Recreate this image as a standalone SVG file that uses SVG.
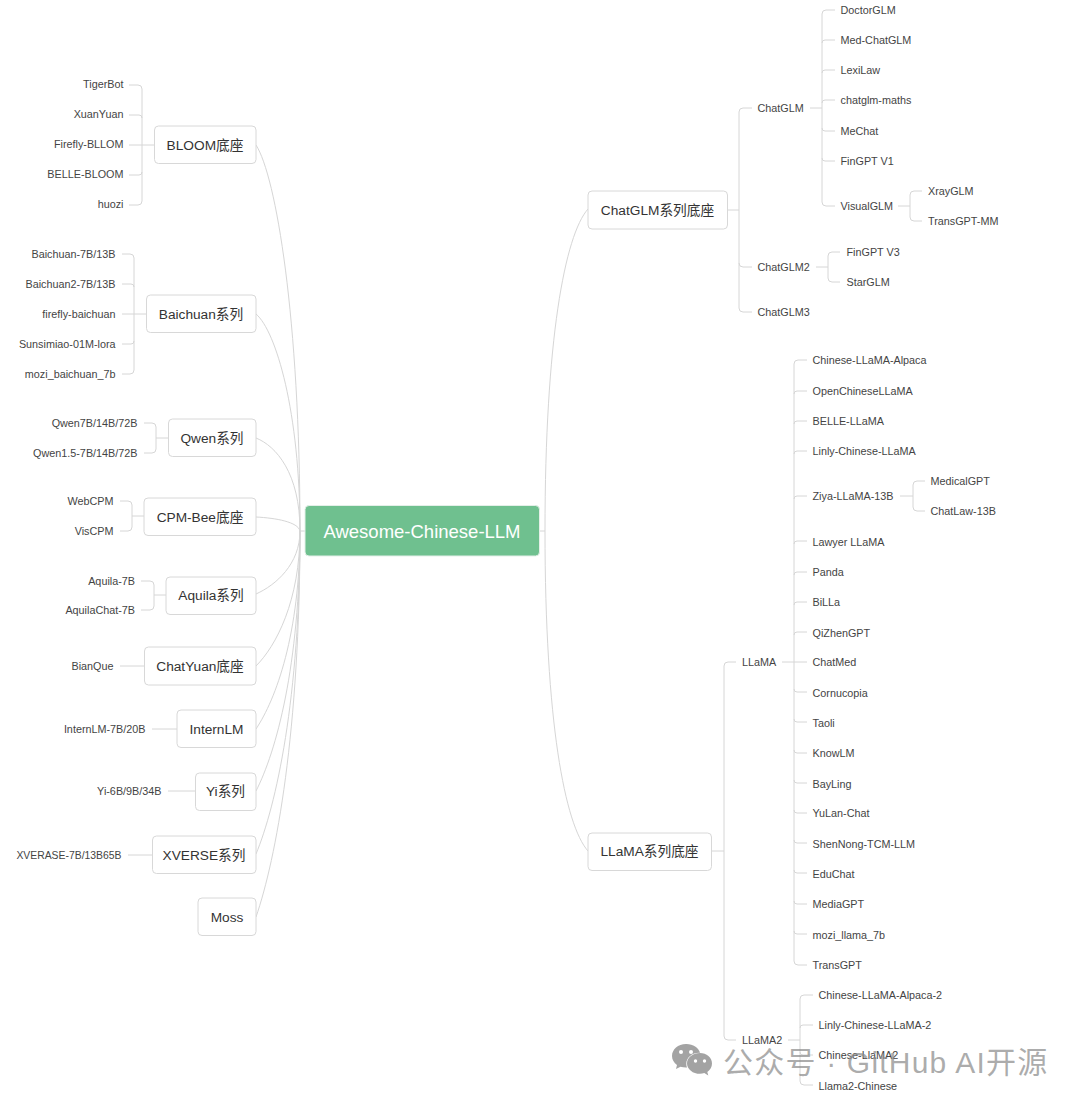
<svg xmlns="http://www.w3.org/2000/svg" width="1080" height="1105" viewBox="0 0 1080 1105">
<style>
text{font-family:"Liberation Sans","Noto Sans CJK SC",sans-serif;fill:#444}
.l{font-size:10.800px}
.r{font-size:10.800px;text-anchor:end}
.b{font-size:13.700px;text-anchor:middle;fill:#333}
.box{fill:#fff;stroke:#d8d8d8;stroke-width:1}
.root{fill:#6fc08f;stroke:#e4efe8;stroke-width:1}
.t{font-size:18.500px;text-anchor:middle;fill:#fff}
#connectors path{fill:none;stroke:#d6d6d6;stroke-width:1}
.wm{font-size:30px;letter-spacing:1.200px;fill:#8c8c8c;fill-opacity:.72}
.ic{fill:#8c8c8c;fill-opacity:.8}
.eye{fill:#fff}
</style>
<rect width="1080" height="1105" fill="#fff"/>
<g id="connectors">
<path d="M305 531H300"/>
<path d="M256 145C276 176 300 319 300 531"/>
<path d="M256 314C276 331 300 412 300 531"/>
<path d="M256 438C276 446 300 473 300 531"/>
<path d="M256 517C276 518 298 522 300 531"/>
<path d="M256 594C276 585 300 564 300 531"/>
<path d="M256 666C276 646 300 601 300 531"/>
<path d="M256 729C276 699 300 634 300 531"/>
<path d="M256 791C276 752 300 666 300 531"/>
<path d="M256 854C276 806 300 699 300 531"/>
<path d="M256 917C276 859 300 732 300 531"/>
<path d="M129 85H138Q142 85 142 89V201Q142 205 138 205H129M129 115H139Q142 115 142 118M129 145H154M129 175H139Q142 175 142 172"/>
<path d="M122 254H130Q134 254 134 258V370Q134 374 130 374H122M122 284H131Q134 284 134 287M122 314H146M122 344H131Q134 344 134 341"/>
<path d="M144 423H152Q156 423 156 427V449Q156 453 152 453H144M156 438H168"/>
<path d="M120 501H128Q132 501 132 505V527Q132 531 128 531H120M132 516H144"/>
<path d="M141 581H150Q154 581 154 585V606Q154 610 150 610H141M154 595H166"/>
<path d="M120 666H144M152 729H177M168 791H195M128 855H152"/>
<path d="M539 531H545"/>
<path d="M588 209C565 235 545 340 545 531"/>
<path d="M588 851C565 825 545 722 545 531"/>
<path d="M727 210H739M752 108H743Q739 108 739 112V308Q739 312 743 312H752M739 263Q739 267 743 267H752"/>
<path d="M810 108H822M835 10H826Q822 10 822 14V202Q822 206 826 206H835M822 43Q822 40 825 40H835M822 73Q822 70 825 70H835M822 103Q822 100 825 100H835M822 128Q822 131 825 131H835M822 158Q822 161 825 161H835"/>
<path d="M898 206H910M922 191H914Q910 191 910 195V217Q910 221 914 221H922"/>
<path d="M816 267H828M840 252H832Q828 252 828 256V278Q828 282 832 282H840"/>
<path d="M711 851H724M736 662H728Q724 662 724 666V1036Q724 1040 728 1040H736"/>
<path d="M782 662H807M807 360H798Q794 360 794 364V961Q794 965 798 965H807M794 394Q794 391 797 391H807M794 424Q794 421 797 421H807M794 454Q794 451 797 451H807M794 499Q794 496 797 496H807M794 544Q794 541 797 541H807M794 575Q794 572 797 572H807M794 605Q794 602 797 602H807M794 635Q794 632 797 632H807M794 689Q794 692 797 692H807M794 719Q794 722 797 722H807M794 750Q794 753 797 753H807M794 780Q794 783 797 783H807M794 810Q794 813 797 813H807M794 840Q794 843 797 843H807M794 870Q794 873 797 873H807M794 901Q794 904 797 904H807M794 931Q794 934 797 934H807"/>
<path d="M900 496H913M925 481H917Q913 481 913 485V507Q913 511 917 511H925"/>
<path d="M788 1040H800M813 995H804Q800 995 800 999V1081Q800 1085 804 1085H813M800 1028Q800 1025 803 1025H813M800 1052Q800 1055 803 1055H813"/>
</g>
<g id="root"><rect class="root" x="305" y="505.500" width="234.500" height="50.500" rx="4"/><text class="t" x="422" y="537.500">Awesome-Chinese-LLM</text></g>
<g id="n-bloom"><rect class="box" x="154.500" y="126" width="101.500" height="37.500" rx="4"/><text class="b" x="205" y="149.500">BLOOM底座</text></g>
<g id="n-baichuan"><rect class="box" x="146.500" y="295" width="109.500" height="37.500" rx="4"/><text class="b" x="201" y="318.500">Baichuan系列</text></g>
<g id="n-qwen"><rect class="box" x="168.500" y="419" width="87.500" height="37.500" rx="4"/><text class="b" x="212" y="442.500">Qwen系列</text></g>
<g id="n-cpm"><rect class="box" x="144" y="498" width="112" height="37.500" rx="4"/><text class="b" x="200" y="521.500">CPM-Bee底座</text></g>
<g id="n-aquila"><rect class="box" x="166" y="577" width="90" height="37.500" rx="4"/><text class="b" x="211" y="600">Aquila系列</text></g>
<g id="n-chatyuan"><rect class="box" x="144.500" y="647" width="111.500" height="38" rx="4"/><text class="b" x="200" y="670.500">ChatYuan底座</text></g>
<g id="n-internlm"><rect class="box" x="177" y="710" width="79" height="37.500" rx="4"/><text class="b" x="216.500" y="734">InternLM</text></g>
<g id="n-yi"><rect class="box" x="195.500" y="773" width="60.500" height="37.500" rx="4"/><text class="b" x="225.500" y="796">Yi系列</text></g>
<g id="n-xverse"><rect class="box" x="152.500" y="836" width="103.500" height="37.500" rx="4"/><text class="b" x="204" y="859.500">XVERSE系列</text></g>
<g id="n-moss"><rect class="box" x="198" y="898" width="58" height="37.500" rx="4"/><text class="b" x="227" y="922">Moss</text></g>
<g id="n-chatglm-base"><rect class="box" x="588" y="191" width="139.500" height="38" rx="4"/><text class="b" x="657.500" y="215">ChatGLM系列底座</text></g>
<g id="n-llama-base"><rect class="box" x="588" y="833" width="123.500" height="37.500" rx="4"/><text class="b" x="649.500" y="856">LLaMA系列底座</text></g>
<g id="l-tigerbot"><text class="r" x="123.500" y="88">TigerBot</text></g>
<g id="l-xuanyuan"><text class="r" x="123.500" y="118">XuanYuan</text></g>
<g id="l-firefly-bllom"><text class="r" x="123.500" y="148">Firefly-BLLOM</text></g>
<g id="l-belle-bloom"><text class="r" x="123.500" y="178">BELLE-BLOOM</text></g>
<g id="l-huozi"><text class="r" x="123.500" y="208">huozi</text></g>
<g id="l-baichuan"><text class="r" x="115.500" y="258">Baichuan-7B/13B</text></g>
<g id="l-baichuan2"><text class="r" x="115.500" y="288">Baichuan2-7B/13B</text></g>
<g id="l-firefly-baichuan"><text class="r" x="115.500" y="318">firefly-baichuan</text></g>
<g id="l-sunsimiao"><text class="r" x="115.500" y="348">Sunsimiao-01M-lora</text></g>
<g id="l-mozi-baichuan"><text class="r" x="115.500" y="378">mozi_baichuan_7b</text></g>
<g id="l-qwen7b"><text class="r" x="137.500" y="427">Qwen7B/14B/72B</text></g>
<g id="l-qwen15"><text class="r" x="137.500" y="457">Qwen1.5-7B/14B/72B</text></g>
<g id="l-webcpm"><text class="r" x="113.500" y="505">WebCPM</text></g>
<g id="l-viscpm"><text class="r" x="113.500" y="535">VisCPM</text></g>
<g id="l-aquila7b"><text class="r" x="135" y="585">Aquila-7B</text></g>
<g id="l-aquilachat"><text class="r" x="135" y="614">AquilaChat-7B</text></g>
<g id="l-bianque"><text class="r" x="113.500" y="670">BianQue</text></g>
<g id="l-internlm"><text class="r" x="145.500" y="733">InternLM-7B/20B</text></g>
<g id="l-yi"><text class="r" x="161.500" y="795">Yi-6B/9B/34B</text></g>
<g id="l-xverse"><text class="r" x="121.500" y="859" style="font-size:10.400px">XVERASE-7B/13B65B</text></g>
<g id="c-chatglm"><text class="l" x="757.500" y="112">ChatGLM</text></g>
<g id="c-chatglm2"><text class="l" x="757.500" y="271">ChatGLM2</text></g>
<g id="c-chatglm3"><text class="l" x="757.500" y="316">ChatGLM3</text></g>
<g id="c-doctorglm"><text class="l" x="840.500" y="14">DoctorGLM</text></g>
<g id="c-medchatglm"><text class="l" x="840.500" y="44">Med-ChatGLM</text></g>
<g id="c-lexilaw"><text class="l" x="840.500" y="74">LexiLaw</text></g>
<g id="c-maths"><text class="l" x="840.500" y="104">chatglm-maths</text></g>
<g id="c-mechat"><text class="l" x="840.500" y="135">MeChat</text></g>
<g id="c-fingptv1"><text class="l" x="840.500" y="165">FinGPT V1</text></g>
<g id="c-visualglm"><text class="l" x="840.500" y="210">VisualGLM</text></g>
<g id="c-xrayglm"><text class="l" x="928" y="195">XrayGLM</text></g>
<g id="c-transgptmm"><text class="l" x="928" y="225">TransGPT-MM</text></g>
<g id="c-fingptv3"><text class="l" x="846.500" y="255.500">FinGPT V3</text></g>
<g id="c-starglm"><text class="l" x="846.500" y="285.500">StarGLM</text></g>
<g id="c-llama"><text class="l" x="742" y="666">LLaMA</text></g>
<g id="c-llama2"><text class="l" x="742" y="1044">LLaMA2</text></g>
<g id="c1"><text class="l" x="812.500" y="364">Chinese-LLaMA-Alpaca</text></g>
<g id="c2"><text class="l" x="812.500" y="395">OpenChineseLLaMA</text></g>
<g id="c3"><text class="l" x="812.500" y="425">BELLE-LLaMA</text></g>
<g id="c4"><text class="l" x="812.500" y="455">Linly-Chinese-LLaMA</text></g>
<g id="c5"><text class="l" x="812.500" y="500">Ziya-LLaMA-13B</text></g>
<g id="c6"><text class="l" x="812.500" y="545.500">Lawyer LLaMA</text></g>
<g id="c7"><text class="l" x="812.500" y="576">Panda</text></g>
<g id="c8"><text class="l" x="812.500" y="606">BiLLa</text></g>
<g id="c9"><text class="l" x="812.500" y="636.500">QiZhenGPT</text></g>
<g id="c10"><text class="l" x="812.500" y="666">ChatMed</text></g>
<g id="c11"><text class="l" x="812.500" y="696.500">Cornucopia</text></g>
<g id="c12"><text class="l" x="812.500" y="727">Taoli</text></g>
<g id="c13"><text class="l" x="812.500" y="757">KnowLM</text></g>
<g id="c14"><text class="l" x="812.500" y="787.500">BayLing</text></g>
<g id="c15"><text class="l" x="812.500" y="817">YuLan-Chat</text></g>
<g id="c16"><text class="l" x="812.500" y="847.500">ShenNong-TCM-LLM</text></g>
<g id="c17"><text class="l" x="812.500" y="877.500">EduChat</text></g>
<g id="c18"><text class="l" x="812.500" y="908">MediaGPT</text></g>
<g id="c19"><text class="l" x="812.500" y="938.500">mozi_llama_7b</text></g>
<g id="c20"><text class="l" x="812.500" y="969">TransGPT</text></g>
<g id="c-medicalgpt"><text class="l" x="930.500" y="485">MedicalGPT</text></g>
<g id="c-chatlaw"><text class="l" x="930.500" y="515">ChatLaw-13B</text></g>
<g id="d1"><text class="l" x="818.500" y="999">Chinese-LLaMA-Alpaca-2</text></g>
<g id="d2"><text class="l" x="818.500" y="1029">Linly-Chinese-LLaMA-2</text></g>
<g id="d3"><text class="l" x="818.500" y="1059">Chinese-LlaMA2</text></g>
<g id="d4"><text class="l" x="818.500" y="1089.500">Llama2-Chinese</text></g>
<g id="watermark">
<path class="ic" d="M686 1044c-8 0-14 5.500-14 12 0 3.800 2 6.800 5 9l-1 4 4.500-2.300c1.800.5 3.500.8 5.500.8h1c-.5-1.300-.7-2.500-.7-3.800 0-6.200 5.800-11 13-11h.8c-1.500-5-7-8.700-13.600-8.700z"/>
<path class="ic" d="M700 1053c-7 0-13 4.600-13 10.400s6 10.400 13 10.400c1.500 0 3-.3 4.300-.7l4 2.400-1-3.600c3-2 4.700-5 4.700-8.500 0-5.800-5.500-10.400-12-10.400z"/>
<circle class="eye" cx="681" cy="1052" r="2"/><circle class="eye" cx="691" cy="1052" r="2"/><circle class="eye" cx="695.500" cy="1061" r="1.700"/><circle class="eye" cx="704.500" cy="1061" r="1.700"/>
<text class="wm" x="723" y="1073">公众号 · GitHub AI开源</text>
</g>
</svg>
